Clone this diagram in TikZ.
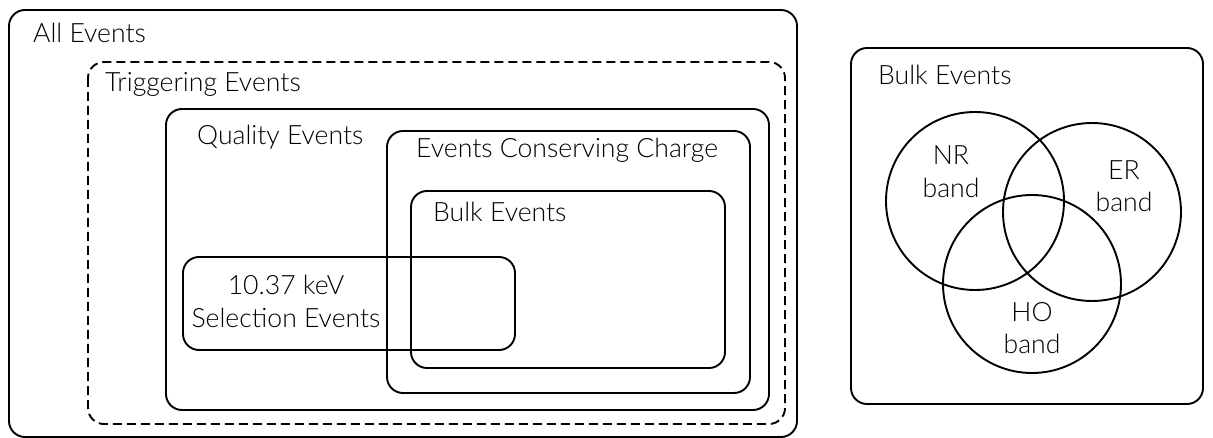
\documentclass[tikz,border=0pt]{standalone}
\usepackage{fontspec}
\setmainfont{Lato Light}
\begin{document}
\begin{tikzpicture}[x=1pt,y=-1pt,
  box/.style={draw=black,line width=1.9pt,rounded corners=16pt},
  dbox/.style={box,dash pattern=on 9pt off 5pt},
  lbl/.style={anchor=base west,inner sep=0pt,font=\fontsize{26.6}{30}\selectfont},
  clbl/.style={anchor=base,inner sep=0pt,font=\fontsize{26.6}{30}\selectfont},
  ring/.style={draw=black,line width=1.9pt}]
\useasboundingbox (0,0) rectangle (1213,438);
% left boxes
\draw[box] (9,10) rectangle (797,437);
\draw[dbox] (88,62) rectangle (785,424);
\draw[box] (166,109) rectangle (769,410);
\draw[box] (387,131) rectangle (750,393);
\draw[box] (411,191) rectangle (725,368);
\draw[box] (183,257) rectangle (515,350);
\node[lbl] (all) at (33,43) {All Events};
\node[lbl] (trig) at (105,92) {Triggering Events};
\node[lbl] (qual) at (197,145) {Quality Events};
\node[lbl] (charge) at (416,158) {Events Conserving Charge};
\node[lbl] (bulk) at (433,222) {Bulk Events};
\node[clbl] (sel1) at (286,295) {10.37 keV};
\node[clbl] (sel2) at (286,327) {Selection Events};
% right box
\draw[box] (851,48) rectangle (1203,404);
\node[lbl] (bulkr) at (878,85) {Bulk Events};
\node[ring,circle,minimum size=178pt,inner sep=0pt] (nr) at (975,201) {};
\node[ring,circle,minimum size=178pt,inner sep=0pt] (er) at (1092,212) {};
\node[ring,circle,minimum size=178pt,inner sep=0pt] (ho) at (1032,284) {};
\node[clbl] (nr1) at (951,165) {NR};
\node[clbl] (nr2) at (951,198) {band};
\node[clbl] (er1) at (1124,180) {ER};
\node[clbl] (er2) at (1124,212) {band};
\node[clbl] (ho1) at (1032,322) {HO};
\node[clbl] (ho2) at (1032,353) {band};
\end{tikzpicture}
\end{document}
